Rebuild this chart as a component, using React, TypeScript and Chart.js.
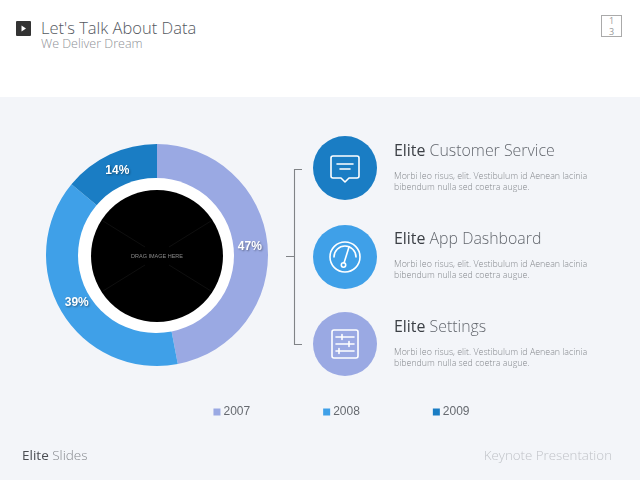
import React, { useEffect, useRef } from "react";
import { Chart, registerables } from "chart.js";

Chart.register(...registerables);

const years = ["2007", "2008", "2009"];
const shares = [47, 39, 14];
const colors = ["#9aa9e3", "#3fa0e8", "#1a7dc4"];
const features = [
  { bold: "Elite", rest: " Customer Service", color: "#1a7dc4" },
  { bold: "Elite", rest: " App Dashboard", color: "#3fa0e8" },
  { bold: "Elite", rest: " Settings", color: "#9aa9e3" },
];
const bodyLine1 = "Morbi leo risus, elit. Vestibulum id Aenean lacinia";
const bodyLine2 = "bibendum nulla sed coetra augue.";

const FONT = "'Open Sans', sans-serif";

const placePlugin = {
  id: "place",
  afterLayout(chart: any) {
    const left = 46, top = 144, size = 222;
    chart.chartArea = { left, top, right: left + size, bottom: top + size, width: size, height: size };
    const lg = chart.legend;
    if (lg) {
      const h = lg.bottom - lg.top;
      lg.left += 23;
      lg.right += 23;
      lg.top = 410 - h / 2 - 31;
      lg.bottom = lg.top + h;
    }
  },
};

const pctPlugin = {
  id: "pct",
  afterDatasetsDraw(chart: any) {
    const { ctx } = chart;
    const meta = chart.getDatasetMeta(0);
    ctx.save();
    ctx.font = "bold 12px 'Liberation Sans', Arial, sans-serif";
    ctx.textAlign = "center";
    ctx.textBaseline = "middle";
    ctx.fillStyle = "#ffffff";
    ctx.shadowColor = "rgba(0,0,0,0.4)";
    ctx.shadowBlur = 2;
    ctx.shadowOffsetX = 1;
    ctx.shadowOffsetY = 1;
    meta.data.forEach((arc: any, i: number) => {
      const p = arc.tooltipPosition();
      ctx.fillText(shares[i] + "%", p.x, p.y);
    });
    ctx.restore();
  },
};

const abs = (left: number, top: number, extra: any = {}): any => ({
  position: "absolute",
  left,
  top,
  whiteSpace: "nowrap",
  ...extra,
});

function Icon({ i }: { i: number }) {
  const p = { fill: "none", stroke: "#fff", strokeWidth: 1.6, strokeLinecap: "round" as const, strokeLinejoin: "round" as const };
  if (i === 0)
    return (
      <svg width="64" height="64" viewBox="0 0 64 64">
        <path d="M20 20 H44 Q46 20 46 22 V40 Q46 42 44 42 H36 L32 46 L28 42 H20 Q18 42 18 40 V22 Q18 20 20 20 Z" {...p} />
        <path d="M24 28 H40 M27 33 H37" {...p} />
      </svg>
    );
  if (i === 1)
    return (
      <svg width="64" height="64" viewBox="0 0 64 64">
        <circle cx="32" cy="32" r="15" {...p} />
        <path d="M21 32 A11 11 0 0 1 43 32" {...p} />
        <path d="M31 38 L36 22" {...p} />
        <circle cx="30.5" cy="40" r="2.2" {...p} />
      </svg>
    );
  return (
    <svg width="64" height="64" viewBox="0 0 64 64">
      <rect x="19" y="18" width="26" height="28" rx="2" {...p} />
      <path d="M23 25 H41 M23 32 H41 M23 39 H41" {...p} />
      <path d="M29 22.5 V27.5 M36 29.5 V34.5 M26 36.5 V41.5" {...p} />
    </svg>
  );
}

export default function App() {
  const ref = useRef<HTMLCanvasElement>(null);
  useEffect(() => {
    const chart = new Chart(ref.current!, {
      type: "doughnut",
      data: {
        labels: years,
        datasets: [{ data: shares, backgroundColor: colors, borderWidth: 0 }],
      },
      options: {
        animation: false,
        responsive: false,
        cutout: "68%",
        plugins: {
          tooltip: { enabled: false },
          legend: {
            display: true,
            position: "bottom",
            labels: {
              usePointStyle: true,
              pointStyle: "rect",
              boxWidth: 1,
              boxHeight: 7,
              padding: 76,
              color: "#666a70",
              font: { family: "'Liberation Sans', Arial, sans-serif", size: 12 },
            },
          },
        },
      },
      plugins: [placePlugin, pctPlugin],
    } as any);
    return () => chart.destroy();
  }, []);

  return (
    <div style={{ position: "fixed", left: 0, top: 0, width: 640, height: 480, overflow: "hidden", background: "#fff", fontFamily: FONT }}>
      <div style={abs(0, 97, { width: 640, height: 383, background: "#f3f5f9" })} />

      <svg style={abs(16, 21)} width="15" height="15" viewBox="0 0 15 15">
        <rect width="15" height="15" rx="1" fill="#333" />
        <path d="M5.5 4.5 L10 7.5 L5.5 10.5 Z" fill="#fff" />
      </svg>
      <div style={abs(41, 17, { fontSize: 16.5, lineHeight: "22px", color: "#55595f", fontWeight: 300 })}>Let's Talk About Data</div>
      <div style={abs(41, 35, { fontSize: 12.5, lineHeight: "17px", color: "#8f9297", fontWeight: 300 })}>We Deliver Dream</div>

      <div style={abs(601, 15, { width: 19, height: 20, border: "1px solid #aaa", textAlign: "center", fontSize: 9, lineHeight: "10.5px", color: "#999" })}>
        1<br />3
      </div>

      <canvas ref={ref} width={640} height={480} style={abs(0, 0, { width: 640, height: 480 })} />

      <div style={abs(78, 177.5, { width: 155.5, height: 155.5, borderRadius: "50%", background: "#fff" })} />
      <svg style={abs(90.5, 189)} width="132" height="134" viewBox="0 0 132 134">
        <circle cx="66" cy="67" r="66" fill="#000" />
        <path d="M12 32 L54 58 M120 32 L78 58 M12 102 L54 76 M120 102 L78 76" stroke="#151515" strokeWidth="0.7" />
        <text x="66" y="69" textAnchor="middle" fontSize="5.5" fill="#8a8a8a" fontFamily="'Liberation Sans', Arial, sans-serif">DRAG IMAGE HERE</text>
      </svg>

      <svg style={abs(284, 165)} width="20" height="184" viewBox="0 0 20 184">
        <path d="M18 4.5 H10.5 V179.5 H18 M2 91.5 H10.5" fill="none" stroke="#808387" strokeWidth="1.1" />
      </svg>

      {features.map((f, i) => {
        const y = 168 + i * 88;
        const circleY = i === 1 ? y + 1 : y;
        return (
          <React.Fragment key={i}>
            <div style={abs(313, circleY - 32, { width: 64, height: 64, borderRadius: "50%", background: f.color })}>
              <Icon i={i} />
            </div>
            <div style={abs(394, y - 30, { fontSize: 15.9, lineHeight: "24px", fontWeight: 300, color: "#63676e" })}>
              <span style={{ color: "#3c4046", fontWeight: 400 }}>{f.bold}</span>
              {f.rest}
            </div>
            <div style={abs(394, y + 2.5, { fontSize: 8.85, lineHeight: "11px", fontWeight: 300, color: "#85888d" })}>
              {bodyLine1}
              <br />
              {bodyLine2}
            </div>
          </React.Fragment>
        );
      })}

      <div style={abs(22, 445, { fontSize: 13.5, lineHeight: "20px", fontWeight: 300, color: "#85888d" })}>
        <span style={{ color: "#4a4d52", fontWeight: 400 }}>Elite</span> Slides
      </div>
      <div style={abs(0, 445, { left: "auto", right: 28, fontSize: 13.3, lineHeight: "20px", fontWeight: 300, color: "#c0c3c8" })}>Keynote Presentation</div>
    </div>
  );
}
